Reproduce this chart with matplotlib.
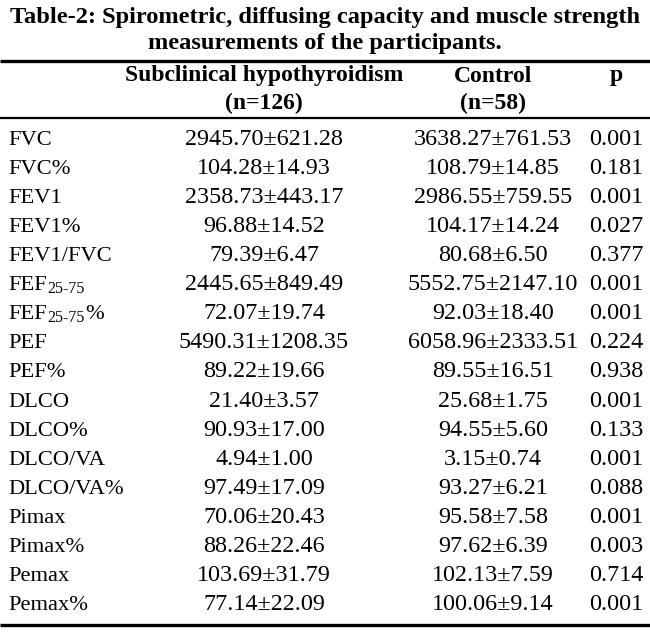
import matplotlib
matplotlib.use("Agg")
import matplotlib.pyplot as plt

plt.rcParams['font.family'] = ['Liberation Serif', 'DejaVu Serif']

title_lines = ["Table-2: Spirometric, diffusing capacity and muscle strength",
               "measurements of the participants."]
headers = [["Subclinical hypothyroidism", "(n=126)"], ["Control", "(n=58)"], ["p", ""]]

# (main label, subscript-like small part, suffix)
parameters = [("FVC", "", ""), ("FVC%", "", ""), ("FEV1", "", ""), ("FEV1%", "", ""),
              ("FEV1/FVC", "", ""), ("FEF", "25-75", ""), ("FEF", "25-75", "%"),
              ("PEF", "", ""), ("PEF%", "", ""), ("DLCO", "", ""), ("DLCO%", "", ""),
              ("DLCO/VA", "", ""), ("DLCO/VA%", "", ""), ("Pimax", "", ""),
              ("Pimax%", "", ""), ("Pemax", "", ""), ("Pemax%", "", "")]
sch_mean = [2945.70, 104.28, 2358.73, 96.88, 79.39, 2445.65, 72.07, 5490.31, 89.22,
            21.40, 90.93, 4.94, 97.49, 70.06, 88.26, 103.69, 77.14]
sch_sd = [621.28, 14.93, 443.17, 14.52, 6.47, 849.49, 19.74, 1208.35, 19.66,
          3.57, 17.00, 1.00, 17.09, 20.43, 22.46, 31.79, 22.09]
ctrl_mean = [3638.27, 108.79, 2986.55, 104.17, 80.68, 5552.75, 92.03, 6058.96, 89.55,
             25.68, 94.55, 3.15, 93.27, 95.58, 97.62, 102.13, 100.06]
ctrl_sd = [761.53, 14.85, 759.55, 14.24, 6.50, 2147.10, 18.40, 2333.51, 16.51,
           1.75, 5.60, 0.74, 6.21, 7.58, 6.39, 7.59, 9.14]
p_values = ["0.001", "0.181", "0.001", "0.027", "0.377", "0.001", "0.001", "0.224", "0.938",
            "0.001", "0.133", "0.001", "0.088", "0.001", "0.003", "0.714", "0.001"]

W, H = 650, 636
fig = plt.figure(figsize=(W / 100, H / 100), dpi=100)
ax = fig.add_axes([0, 0, 1, 1])
ax.set_xlim(0, W)
ax.set_ylim(H, 0)
ax.axis('off')

# title
ax.text(325, 18, title_lines[0], ha='center', va='center', fontsize=17.6, fontweight='bold')
ax.text(325, 44, title_lines[1], ha='center', va='center', fontsize=17.6, fontweight='bold')

# rules
ax.plot([0, W], [61, 61], color='black', lw=2.4, solid_capstyle='butt')
ax.plot([0, W], [117.5, 117.5], color='black', lw=1.6, solid_capstyle='butt')
ax.plot([0, W], [625, 625], color='black', lw=2.4, solid_capstyle='butt')

col_x = [264, 493, 616]
for x, (h1, h2) in zip(col_x, headers):
    ax.text(x, 76, h1, ha='center', va='center', fontsize=17, fontweight='bold')
    if h2:
        ax.text(x, 103, h2, ha='center', va='center', fontsize=17, fontweight='bold')

y0, dy = 145, 29.06   # baselines
fs = 17.4
lfs = 16.2
for i, (name, sub, suf) in enumerate(parameters):
    y = y0 + i * dy
    t = ax.text(8, y, name, ha='left', va='baseline', fontsize=lfs)
    if sub:
        t2 = ax.annotate(sub, xy=(1, 0), xycoords=t, xytext=(0.5, -1),
                         textcoords='offset points', ha='left', va='bottom', fontsize=11.5)
        if suf:
            ax.annotate(suf, xy=(1, 0), xycoords=t2, xytext=(0, 1),
                        textcoords='offset points', ha='left', va='bottom', fontsize=lfs)
    ax.text(col_x[0], y, f"{sch_mean[i]:.2f}\u00b1{sch_sd[i]:.2f}", ha='center',
            va='baseline', fontsize=fs)
    ax.text(col_x[1], y, f"{ctrl_mean[i]:.2f}\u00b1{ctrl_sd[i]:.2f}", ha='center',
            va='baseline', fontsize=fs)
    ax.text(col_x[2], y, p_values[i], ha='center', va='baseline', fontsize=fs)

fig.savefig("out.png", dpi=100, facecolor='white')
